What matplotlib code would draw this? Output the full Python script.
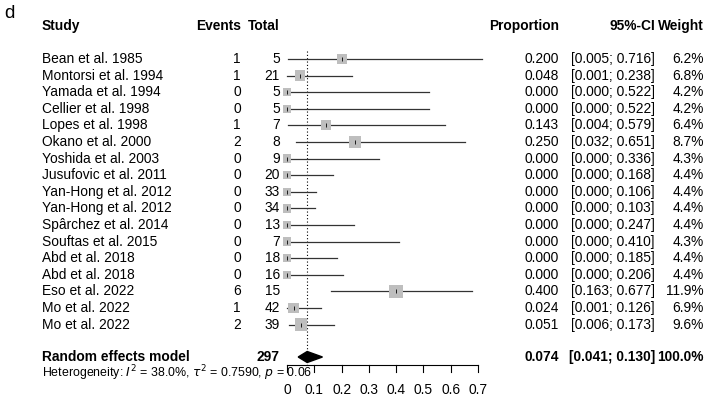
import numpy as np
import matplotlib.pyplot as plt

plt.rcParams['font.family'] = ['Liberation Sans', 'DejaVu Sans']

# Study data
studies = ['Bean et al. 1985', 'Montorsi et al. 1994', 'Yamada et al. 1994', 'Cellier et al. 1998',
           'Lopes et al. 1998', 'Okano et al. 2000', 'Yoshida et al. 2003', 'Jusufovic et al. 2011',
           'Yan-Hong et al. 2012', 'Yan-Hong et al. 2012', 'Spârchez et al. 2014', 'Souftas et al. 2015',
           'Abd et al. 2018', 'Abd et al. 2018', 'Eso et al. 2022', 'Mo et al. 2022', 'Mo et al. 2022']
events = [1, 1, 0, 0, 1, 2, 0, 0, 0, 0, 0, 0, 0, 0, 6, 1, 2]
totals = [5, 21, 5, 5, 7, 8, 9, 20, 33, 34, 13, 7, 18, 16, 15, 42, 39]
prop = [0.200, 0.048, 0.000, 0.000, 0.143, 0.250, 0.000, 0.000, 0.000, 0.000, 0.000, 0.000,
        0.000, 0.000, 0.400, 0.024, 0.051]
lower = [0.005, 0.001, 0.000, 0.000, 0.004, 0.032, 0.000, 0.000, 0.000, 0.000, 0.000, 0.000,
         0.000, 0.000, 0.163, 0.001, 0.006]
upper = [0.716, 0.238, 0.522, 0.522, 0.579, 0.651, 0.336, 0.168, 0.106, 0.103, 0.247, 0.410,
         0.185, 0.206, 0.677, 0.126, 0.173]
weights = [6.2, 6.8, 4.2, 4.2, 6.4, 8.7, 4.3, 4.4, 4.4, 4.4, 4.4, 4.3, 4.4, 4.4, 11.9, 6.9, 9.6]

# Pooled estimate
re_total = 297
re_est, re_lo, re_hi = 0.074, 0.041, 0.130
xticks = [0, 0.1, 0.2, 0.3, 0.4, 0.5, 0.6, 0.7]

W, H = 708, 398
fig = plt.figure(figsize=(W / 100, H / 100), dpi=100)
ax = fig.add_axes([0, 0, 1, 1])

# x scale: proportion 0 at 287px, 0.7 at 478px
x0, scale = 287, 272.9
y0, step = 59, 16.6
def px(p):
    return (p - x0) / scale
def py(p):
    return (p - y0) / step

ax.set_xlim(px(0), px(W))
ax.set_ylim(py(H), py(0))
ax.axis('off')

fs = 9.9
rows = np.arange(len(studies))

# Panel label and headers
ax.text(px(4), py(13), 'd', fontsize=13.5, va='center', ha='left')
hy = py(26)
ax.text(px(42), hy, 'Study', fontsize=fs, fontweight='bold', va='center')
ax.text(px(241), hy, 'Events', fontsize=fs, fontweight='bold', va='center', ha='right')
ax.text(px(280), hy, 'Total', fontsize=fs, fontweight='bold', va='center', ha='right')
ax.text(px(559), hy, 'Proportion', fontsize=fs, fontweight='bold', va='center', ha='right')
ax.text(px(655), hy, '95%-CI', fontsize=fs, fontweight='bold', va='center', ha='right')
ax.text(px(704), hy, 'Weight', fontsize=fs, fontweight='bold', va='center', ha='right')

# Reference line at pooled estimate
ax.plot([re_est, re_est], [py(51), py(365)], color='black', ls=(0, (1, 2)), lw=0.8)

# Study rows
for i in rows:
    ax.text(px(42), i, studies[i], fontsize=fs, va='center')
    ax.text(px(241), i, str(events[i]), fontsize=fs, va='center', ha='right')
    ax.text(px(280), i, str(totals[i]), fontsize=fs, va='center', ha='right')
    ax.text(px(559), i, f'{prop[i]:.3f}', fontsize=fs, va='center', ha='right')
    ax.text(px(655), i, f'[{lower[i]:.3f}; {upper[i]:.3f}]', fontsize=fs, va='center', ha='right')
    ax.text(px(704), i, f'{weights[i]:.1f}%', fontsize=fs, va='center', ha='right')
    ax.plot([lower[i], upper[i]], [i, i], color='#333333', lw=0.9, zorder=2)

side = 4.0 * np.sqrt(np.array(weights)) * 0.72
ax.scatter(prop, rows, s=side ** 2, marker='s', color='#BEBEBE', zorder=3, linewidths=0)
ax.scatter(prop, rows, s=10, marker='|', color='black', linewidths=0.6, zorder=4)

# Random effects row
ry = py(357)
ax.text(px(42), ry, 'Random effects model', fontsize=fs, fontweight='bold', va='center')
ax.text(px(280), ry, str(re_total), fontsize=fs, fontweight='bold', va='center', ha='right')
ax.text(px(559), ry, f'{re_est:.3f}', fontsize=fs, fontweight='bold', va='center', ha='right')
ax.text(px(655), ry, f'[{re_lo:.3f}; {re_hi:.3f}]', fontsize=fs, fontweight='bold', va='center', ha='right')
ax.text(px(704), ry, '100.0%', fontsize=fs, fontweight='bold', va='center', ha='right')
dh = 5.5 / step
ax.fill([re_lo, re_est, re_hi, re_est], [ry, ry - dh, ry, ry + dh], color='black', zorder=4)

# Heterogeneity
ax.text(px(42), py(373), r'Heterogeneity: $I^2$ = 38.0%, $\tau^2$ = 0.7590, $p$ = 0.06',
        fontsize=8.9, va='center', ha='left')

# x axis
ay = py(365)
ax.plot([xticks[0], xticks[-1]], [ay, ay], color='black', lw=0.8)
for t in xticks:
    ax.plot([t, t], [ay, py(372)], color='black', lw=0.8)
    ax.text(t, py(390), f'{t:g}', fontsize=fs, va='center', ha='center')

fig.savefig('out.png', dpi=100)
